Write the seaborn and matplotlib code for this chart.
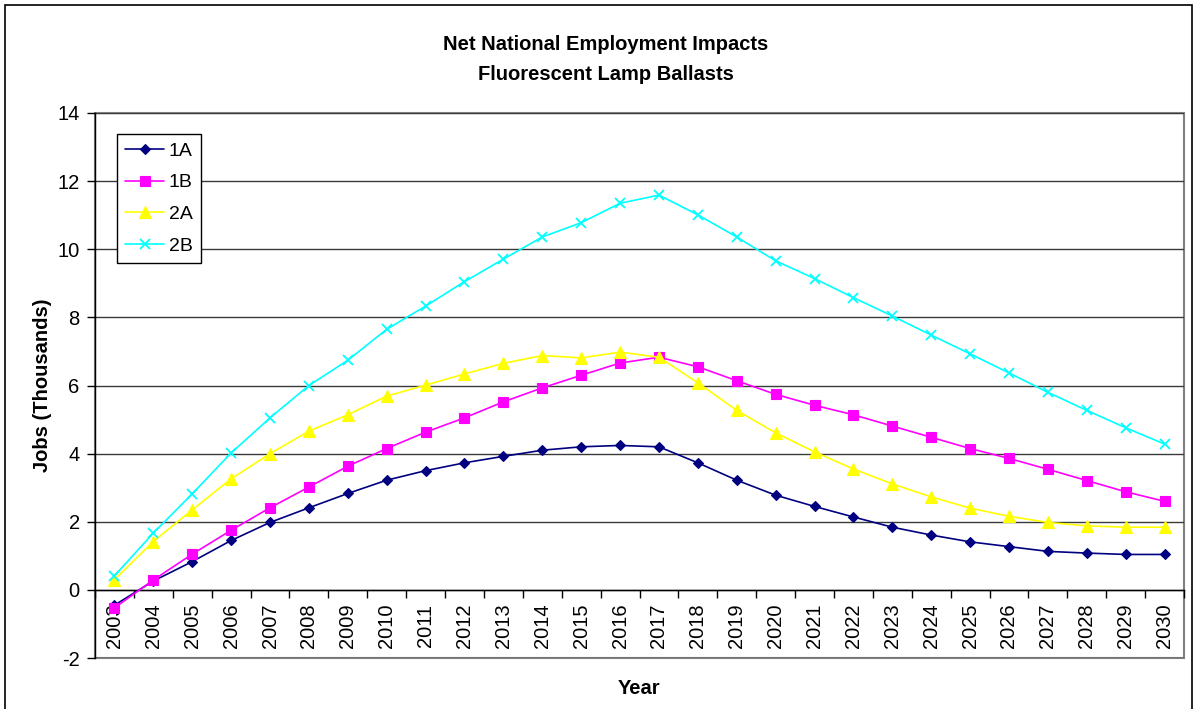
import numpy as np
import pandas as pd
import matplotlib
matplotlib.use("Agg")
import matplotlib.pyplot as plt
from matplotlib.patches import Rectangle
from matplotlib.ticker import FixedLocator
import seaborn as sns

years = list(range(2003, 2031))

jobs_1a = [-0.45, 0.26, 0.83, 1.45, 1.98, 2.41, 2.83, 3.22, 3.50, 3.73,
           3.92, 4.10, 4.20, 4.24, 4.20, 3.73, 3.22, 2.78, 2.45, 2.14,
           1.84, 1.61, 1.41, 1.27, 1.13, 1.08, 1.04, 1.04]
jobs_1b = [-0.53, 0.29, 1.05, 1.75, 2.41, 3.02, 3.63, 4.15, 4.63, 5.05,
           5.52, 5.93, 6.30, 6.66, 6.83, 6.55, 6.14, 5.74, 5.42, 5.14,
           4.81, 4.48, 4.15, 3.86, 3.54, 3.21, 2.88, 2.60]
jobs_2a = [0.30, 1.42, 2.35, 3.26, 4.00, 4.66, 5.14, 5.69, 6.01, 6.34,
           6.65, 6.88, 6.81, 6.98, 6.83, 6.08, 5.27, 4.61, 4.05, 3.55,
           3.11, 2.73, 2.40, 2.16, 1.98, 1.88, 1.84, 1.84]
jobs_2b = [0.41, 1.67, 2.82, 4.02, 5.05, 6.00, 6.74, 7.65, 8.33, 9.05,
           9.71, 10.36, 10.78, 11.35, 11.59, 11.01, 10.36, 9.66, 9.14, 8.58,
           8.04, 7.48, 6.93, 6.37, 5.80, 5.27, 4.76, 4.28]

series_names = ["1A", "1B", "2A", "2B"]
series_values = [jobs_1a, jobs_1b, jobs_2a, jobs_2b]
series_colors = ["#000080", "#FF00FF", "#FFFF00", "#00FFFF"]
series_markers = ["D", "s", "^", "x"]
series_msize = [5.4, 7.2, 8.2, 7.2]

y_ticks = list(range(-2, 15, 2))

df = pd.DataFrame({
    "Year": np.tile(years, len(series_names)),
    "Jobs": np.concatenate(series_values),
    "Scenario": np.repeat(series_names, len(years)),
})

sns.set_style("white")
plt.rcParams["font.family"] = ["Liberation Sans", "DejaVu Sans"]
plt.rcParams["text.color"] = "black"
plt.rcParams["axes.labelcolor"] = "black"
plt.rcParams["xtick.color"] = "black"
plt.rcParams["ytick.color"] = "black"

W, H = 1197, 709
fig = plt.figure(figsize=(W / 100, H / 100), dpi=100)
ax = fig.add_axes([95 / W, 1 - 658 / H, (1184 - 95) / W, (658 - 113) / H])

# horizontal gridlines at each y tick
for yv in y_ticks:
    ax.axhline(yv, color="#3a3a3a", lw=1.0, zorder=1)

for name, color, mk, ms in zip(series_names, series_colors, series_markers, series_msize):
    sub = df[df["Scenario"] == name]
    sns.lineplot(data=sub, x="Year", y="Jobs", ax=ax, color=color, marker=mk,
                 markersize=ms, markeredgecolor=color,
                 markeredgewidth=1.3 if mk == "x" else 0.8,
                 linewidth=1.2, label=name, zorder=3, clip_on=False)

ax.set_xlim(years[0] - 0.5, years[-1] + 0.5)
ax.set_ylim(-2, 14)

# category axis sits at zero, with marks between the categories
for s in ["top", "right", "left", "bottom"]:
    ax.spines[s].set_visible(False)
ax.spines["left"].set_visible(True)
ax.spines["left"].set_color("black")
ax.spines["left"].set_linewidth(1.0)
ax.spines["bottom"].set_visible(True)
ax.spines["bottom"].set_position(("data", 0))
ax.spines["bottom"].set_color("black")
ax.spines["bottom"].set_linewidth(1.0)
ax.add_patch(Rectangle((0, 0), 1, 1, transform=ax.transAxes, fill=False,
                       edgecolor="#808080", lw=1.5, zorder=0.5, clip_on=False))

ax.xaxis.set_major_locator(FixedLocator(years))
ax.xaxis.set_minor_locator(FixedLocator([y - 0.5 for y in years] + [years[-1] + 0.5]))
ax.set_xticklabels([str(y) for y in years], rotation=90, fontsize=14.5)
ax.tick_params(axis="x", which="major", length=0, pad=10)
ax.tick_params(axis="x", which="minor", length=6, width=1, color="black",
               direction="out", bottom=True)
for lbl in ax.get_xticklabels():
    lbl.set_va("top")

ax.set_yticks(y_ticks)
ax.set_yticklabels([str(v) for v in y_ticks], fontsize=14.5)
ax.tick_params(axis="y", which="major", length=6, width=1, color="black",
               direction="out", left=True, pad=5)

ax.set_xlabel("Year", fontsize=14.5, fontweight="bold")
ax.xaxis.set_label_coords(0.5, (658 - 689) / (658 - 113))
ax.xaxis.label.set_va("center")
ax.set_ylabel("Jobs (Thousands)", fontsize=14.5, fontweight="bold")
ax.yaxis.set_label_coords((43 - 95) / (1184 - 95), 0.5)
ax.yaxis.label.set_va("center")

fig.text(606 / W, 1 - 44 / H, "Net National Employment Impacts",
         ha="center", va="center", fontsize=14.5, fontweight="bold")
fig.text(606 / W, 1 - 74 / H, "Fluorescent Lamp Ballasts",
         ha="center", va="center", fontsize=14.5, fontweight="bold")

leg = ax.legend(loc="upper left",
                bbox_to_anchor=((117 - 95) / (1184 - 95), (658 - 134) / (658 - 113)),
                borderaxespad=0, fontsize=14, frameon=True, fancybox=False,
                handlelength=2.0, handletextpad=0.25, labelspacing=0.72,
                borderpad=0.42, framealpha=1)
leg.get_frame().set_edgecolor("black")
leg.get_frame().set_linewidth(1.0)
leg.set_zorder(5)

# outer chart border
fig.patches.append(Rectangle((5 / W, -0.05), (1192 - 5) / W, 1 - 5 / H + 0.05,
                             transform=fig.transFigure, fill=False,
                             edgecolor="black", lw=1.2))

fig.savefig("out.png", dpi=100)
